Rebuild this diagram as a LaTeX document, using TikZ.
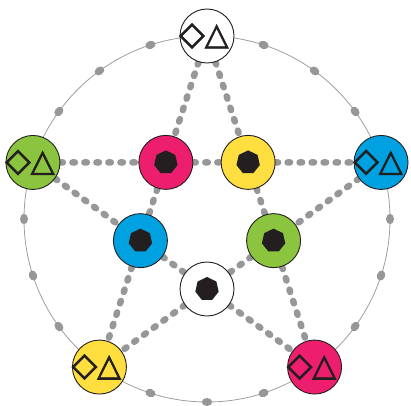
\documentclass[tikz,border=0pt]{standalone}
\usepackage{fontspec}
\newfontfamily\symfont[FakeBold=2.2]{DejaVu Sans}
\usetikzlibrary{shapes.geometric,backgrounds}
\definecolor{dotgray}{RGB}{150,151,153}
\definecolor{rimgray}{RGB}{158,158,158}
\definecolor{cpink}{RGB}{237,30,110}
\definecolor{cyellow}{RGB}{255,222,64}
\definecolor{cgreen}{RGB}{139,197,63}
\definecolor{cblue}{RGB}{0,161,224}
\definecolor{inkblack}{RGB}{35,31,32}
\newcommand{\dtsym}{{\fontsize{33}{33}\selectfont ◇}{\fontsize{31}{31}\selectfont △}}

\begin{document}
\begin{tikzpicture}[x=1pt,y=1pt,
  disc/.style={circle,draw=inkblack,line width=0.9pt,minimum size=54pt,inner sep=0pt,fill=white},
  sym/.style={font=\symfont,text=inkblack,inner sep=0pt,xshift=-3pt},
  hept/.style={regular polygon,regular polygon sides=7,fill=inkblack,minimum size=24pt,inner sep=0pt},
  link/.style={draw=dotgray,line width=6.5pt,line cap=round,dash pattern=on 2.5pt off 9.5pt}]
\useasboundingbox (-207,-186) rectangle (204,219);
% outer ring of symbol discs
\node[disc] (top) at (90:183) {};
\node[disc,fill=cgreen] (lft) at (162:183) {};
\node[disc,fill=cyellow] (bl) at (234:183) {};
\node[disc,fill=cpink] (br) at (306:183) {};
\node[disc,fill=cblue] (rgt) at (18:183) {};
\foreach \n in {top,lft,bl,br,rgt}
  \node[sym] at (\n) {\dtsym};
% inner ring of heptagon discs
\node[disc,fill=cpink] (pk) at (126:70) {};
\node[disc,fill=cyellow] (yl) at (54:70) {};
\node[disc,fill=cblue] (bu) at (198:70) {};
\node[disc,fill=cgreen] (gn) at (342:70) {};
\node[disc] (wh) at (270:70) {};
\foreach \n in {pk,yl,bu,gn,wh}
  \node[hept] at (\n) {};
\begin{scope}[on background layer]
\draw[rimgray,line width=0.8pt] (0,0) circle (183);
\foreach \a in {90,162,...,378} \foreach \j in {18,36,54}
  \fill[dotgray,shift={(\a+\j:183)},rotate=\a+\j] (0,0) ellipse [x radius=4,y radius=5.2];
\draw[link] (lft) -- (pk) -- (yl) -- (rgt);
\draw[link] (top) -- (pk) -- (bu) -- (bl);
\draw[link] (top) -- (yl) -- (gn) -- (br);
\draw[link] (lft) -- (bu) -- (wh) -- (br);
\draw[link] (rgt) -- (gn) -- (wh) -- (bl);
\end{scope}
\end{tikzpicture}
\end{document}
